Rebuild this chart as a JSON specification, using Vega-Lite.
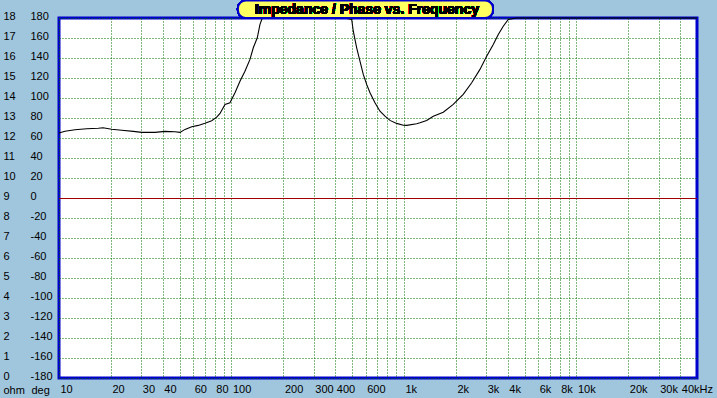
{
  "$schema": "https://vega.github.io/schema/vega-lite/v6.json",
  "width": 638,
  "height": 360,
  "autosize": {"type": "none"},
  "padding": {"left": 59, "top": 18, "right": 20, "bottom": 20},
  "background": "#a0c6de",
  "config": {
    "view": {"fill": "white", "stroke": "#0000cc", "strokeWidth": 3},
    "axis": {
      "labelFont": "Liberation Sans",
      "labelFontSize": 11,
      "labelColor": "black",
      "domain": false,
      "ticks": false,
      "tickSize": 0,
      "labelOverlap": false,
      "labelFlush": false,
      "labelBound": false,
      "gridColor": "#007000",
      "gridDash": [1, 2],
      "gridWidth": 1,
      "gridOpacity": 1,
      "titleFont": "Liberation Sans",
      "titleFontSize": 11,
      "titleFontWeight": "normal",
      "titleColor": "black"
    }
  },
  "data": {
    "values": [
      {"f": 10, "z": 12.25}, {"f": 10.83, "z": 12.34}, {"f": 12.38, "z": 12.41}, {"f": 14.48, "z": 12.46},
      {"f": 16.9, "z": 12.49}, {"f": 18.0, "z": 12.51}, {"f": 20.2, "z": 12.44}, {"f": 23.1, "z": 12.39},
      {"f": 27.0, "z": 12.33}, {"f": 30.2, "z": 12.28}, {"f": 36.0, "z": 12.28}, {"f": 41.2, "z": 12.33},
      {"f": 47.0, "z": 12.31}, {"f": 50.3, "z": 12.28}, {"f": 53.8, "z": 12.43}, {"f": 58.8, "z": 12.56},
      {"f": 64.2, "z": 12.63}, {"f": 70.2, "z": 12.74}, {"f": 76.8, "z": 12.86}, {"f": 82.1, "z": 13.04},
      {"f": 85.8, "z": 13.23}, {"f": 91.7, "z": 13.68}, {"f": 98, "z": 13.76}, {"f": 104.8, "z": 14.26},
      {"f": 112, "z": 14.84}, {"f": 119.7, "z": 15.34}, {"f": 128, "z": 15.93}, {"f": 133.8, "z": 16.51},
      {"f": 141.1, "z": 17.01}, {"f": 146.3, "z": 17.68}, {"f": 150.9, "z": 18.01}, {"f": 170, "z": 20},
      {"f": 200, "z": 24}, {"f": 250, "z": 27}, {"f": 300, "z": 27}, {"f": 350, "z": 24},
      {"f": 400, "z": 21}, {"f": 450, "z": 19.2}, {"f": 497.7, "z": 17.93}, {"f": 508.4, "z": 17.34},
      {"f": 531.9, "z": 16.51}, {"f": 555.8, "z": 15.84}, {"f": 580.9, "z": 15.18}, {"f": 607.8, "z": 14.68},
      {"f": 635.4, "z": 14.26}, {"f": 679.1, "z": 13.76}, {"f": 726, "z": 13.34}, {"f": 776, "z": 13.09},
      {"f": 829.5, "z": 12.88}, {"f": 907, "z": 12.73}, {"f": 991, "z": 12.64}, {"f": 1037, "z": 12.63},
      {"f": 1185, "z": 12.71}, {"f": 1238, "z": 12.76}, {"f": 1354, "z": 12.88}, {"f": 1479, "z": 13.09},
      {"f": 1690, "z": 13.29}, {"f": 1931, "z": 13.68}, {"f": 2207, "z": 14.18}, {"f": 2470, "z": 14.76},
      {"f": 2758, "z": 15.43}, {"f": 3016, "z": 16.09}, {"f": 3294, "z": 16.68}, {"f": 3522, "z": 17.18},
      {"f": 3765, "z": 17.59}, {"f": 4023, "z": 17.93}, {"f": 4500, "z": 18.6}, {"f": 5000, "z": 19.3},
      {"f": 6000, "z": 20.5}, {"f": 8000, "z": 22.5}, {"f": 10000, "z": 24}, {"f": 20000, "z": 30},
      {"f": 50000, "z": 40}
    ]
  },
  "layer": [
    {
      "mark": {"type": "rule", "color": "#a00000", "strokeWidth": 1, "yOffset": 0.5},
      "encoding": {
        "y": {
          "datum": 0,
          "type": "quantitative",
          "scale": {"domain": [-180, 180], "nice": false},
          "axis": {
            "orient": "left",
            "values": [-180, -160, -140, -120, -100, -80, -60, -40, -20, 0, 20, 40, 60, 80, 100, 120, 140, 160, 180],
            "labelExpr": "datum.value + ''",
            "grid": true,
            "labelAlign": "left",
            "labelBaseline": "middle",
            "labelPadding": 29,
            "labelOffset": -2,
            "title": "deg",
            "titleAngle": 0,
            "titleAlign": "left",
            "titleBaseline": "middle",
            "titleX": -28,
            "titleY": 372
          }
        }
      }
    },
    {
      "mark": {"type": "line", "color": "black", "strokeWidth": 1.1},
      "encoding": {
        "x": {
          "field": "f",
          "type": "quantitative",
          "scale": {"type": "log", "domain": [10, 50000], "nice": false},
          "axis": {
            "values": [10, 20, 30, 40, 50, 60, 70, 80, 90, 100, 200, 300, 400, 500, 600, 700, 800, 900, 1000, 2000, 3000, 4000, 5000, 6000, 7000, 8000, 9000, 10000, 20000, 30000, 40000],
            "grid": true,
            "labelAlign": "left",
            "labelBaseline": "middle",
            "labelPadding": 11,
            "labelOffset": 1,
            "labelExpr": "indexof([50,70,90,500,700,800,900,5000,7000,9000], datum.value) >= 0 ? '' : (datum.value >= 1000 ? (datum.value / 1000) + 'k' + (datum.value == 40000 ? 'Hz' : '') : datum.value + '')",
            "title": null
          }
        },
        "y": {
          "field": "z",
          "type": "quantitative",
          "scale": {"domain": [0, 18], "nice": false, "clamp": true},
          "axis": {
            "orient": "left",
            "values": [0, 1, 2, 3, 4, 5, 6, 7, 8, 9, 10, 11, 12, 13, 14, 15, 16, 17, 18],
            "grid": false,
            "labelAlign": "left",
            "labelBaseline": "middle",
            "labelPadding": 56,
            "labelOffset": -2,
            "title": "ohm",
            "titleAngle": 0,
            "titleAlign": "left",
            "titleBaseline": "middle",
            "titleX": -56,
            "titleY": 372
          }
        }
      }
    },
    {
      "mark": {"type": "rect", "fill": "#ffff60", "stroke": "#0000cc", "strokeWidth": 2, "cornerRadius": 8},
      "encoding": {
        "x": {"datum": 109, "type": "quantitative"},
        "x2": {"datum": 3281},
        "y": {"datum": 197.5, "type": "quantitative", "scale": {"domain": [-180, 180], "nice": false}, "axis": null},
        "y2": {"datum": 180}
      }
    },
    {
      "mark": {"type": "text", "text": "Impedance / Phase vs. Frequency", "font": "Liberation Sans", "fontSize": 14, "fontWeight": "bold", "color": "black", "align": "center", "baseline": "middle"},
      "encoding": {
        "x": {"datum": 610, "type": "quantitative"},
        "y": {"datum": 188.5, "type": "quantitative", "scale": {"domain": [-180, 180], "nice": false}, "axis": null}
      }
    }
  ],
  "resolve": {"scale": {"y": "independent"}, "axis": {"y": "independent"}}
}
